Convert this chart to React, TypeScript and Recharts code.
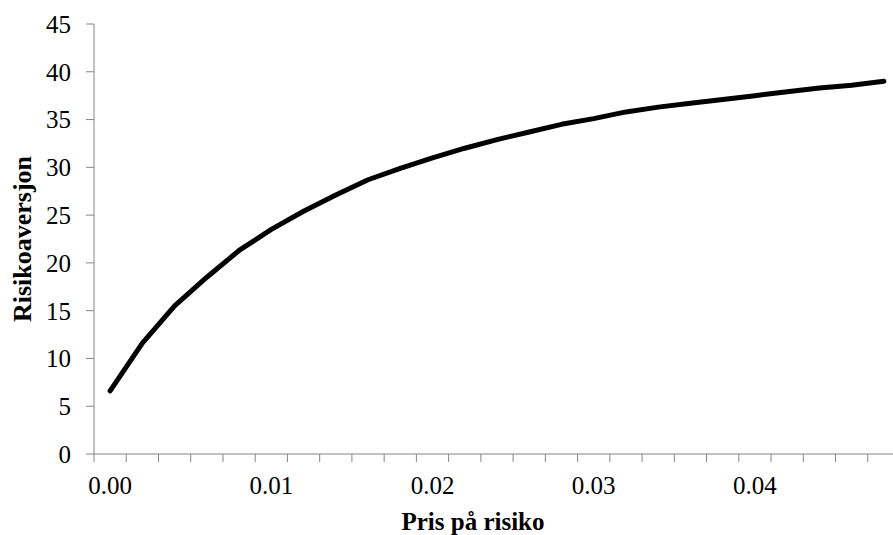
import { LineChart, Line, XAxis, YAxis } from 'recharts';

// price of risk (category steps of 0.002)
const prisPaRisiko = [
  0, 0.002, 0.004, 0.006, 0.008, 0.01, 0.012, 0.014, 0.016, 0.018, 0.02, 0.022,
  0.024, 0.026, 0.028, 0.03, 0.032, 0.034, 0.036, 0.038, 0.04, 0.042, 0.044,
  0.046, 0.048
];

const risikoaversjon = [
  6.6, 11.6, 15.5, 18.5, 21.3, 23.5, 25.4, 27.1, 28.7, 29.9, 31.0, 32.0, 32.9,
  33.7, 34.5, 35.1, 35.8, 36.3, 36.7, 37.1, 37.5, 37.9, 38.3, 38.6, 39.0
];

const xLabelTicks = [0, 0.01, 0.02, 0.03, 0.04];
const yTicks = [0, 5, 10, 15, 20, 25, 30, 35, 40, 45];

const STEP = 0.002;
const HALF = STEP / 2;

// Excel-style category axis: tick marks sit between the categories
const xTickMarks = [
  ...prisPaRisiko.map((v) => v - HALF),
  prisPaRisiko[prisPaRisiko.length - 1] + HALF
];
const xDomain = [xTickMarks[0], xTickMarks[xTickMarks.length - 1]];

const data = prisPaRisiko.map((x, i) => ({ x, y: risikoaversjon[i] }));

const FONT = '"Liberation Serif", "Times New Roman", serif';
const AXIS_GRAY = '#868686';

const CHART_W = 910;
const CHART_H = 535;
const MARGIN = { top: 24, right: 10, bottom: 0, left: 0 };
const Y_AXIS_W = 94;
const PLOT_W = CHART_W - MARGIN.left - MARGIN.right - Y_AXIS_W;
const HALF_BAND_PX = (PLOT_W / (xDomain[1] - xDomain[0])) * HALF;

// tick marks sit on category edges, labels go in the middle of the category
const XTick = (props: any) => {
  const { x, y, payload } = props;
  const center = payload.value + HALF;
  const label = xLabelTicks.find((t) => Math.abs(t - center) < 1e-9);
  if (label === undefined) return <g />;
  return (
    <text
      x={x + HALF_BAND_PX}
      y={y}
      dy="0.71em"
      textAnchor="middle"
      fontFamily={FONT}
      fontSize={25}
      fill="#000"
    >
      {label.toFixed(2)}
    </text>
  );
};

export default function App() {
  return (
    <div
      style={{
        position: 'absolute',
        left: 0,
        top: 0,
        width: 893,
        height: 535,
        overflow: 'hidden',
        background: '#fff'
      }}
    >
      <LineChart width={CHART_W} height={CHART_H} data={data} margin={MARGIN}>
        <XAxis
          dataKey="x"
          type="number"
          domain={xDomain}
          ticks={xTickMarks}
          interval={0}
          tick={<XTick />}
          tickSize={8}
          tickMargin={14}
          height={81}
          stroke={AXIS_GRAY}
          allowDataOverflow
          label={{
            content: (props: any) => {
              const vb = props.viewBox;
              return (
                <text
                  x={vb.x + vb.width / 2 - 24}
                  y={vb.y + 76}
                  textAnchor="middle"
                  fontFamily={FONT}
                  fontSize={25}
                  fontWeight="bold"
                  fill="#000"
                >
                  Pris på risiko
                </text>
              );
            }
          }}
        />
        <YAxis
          domain={[0, 45]}
          ticks={yTicks}
          interval={0}
          width={Y_AXIS_W}
          tickSize={8}
          tickMargin={15}
          stroke={AXIS_GRAY}
          tick={{ fill: '#000', fontSize: 25, fontFamily: FONT }}
          label={{
            content: (props: any) => {
              const vb = props.viewBox;
              const cx = vb.x + 31;
              const cy = vb.y + vb.height / 2;
              return (
                <text
                  x={cx}
                  y={cy}
                  transform={`rotate(-90, ${cx}, ${cy})`}
                  textAnchor="middle"
                  fontFamily={FONT}
                  fontSize={26}
                  fontWeight="bold"
                  fill="#000"
                >
                  Risikoaversjon
                </text>
              );
            }
          }}
        />
        <Line
          dataKey="y"
          type="linear"
          stroke="#000"
          strokeWidth={5}
          strokeLinecap="round"
          strokeLinejoin="round"
          dot={false}
          isAnimationActive={false}
        />
      </LineChart>
    </div>
  );
}
